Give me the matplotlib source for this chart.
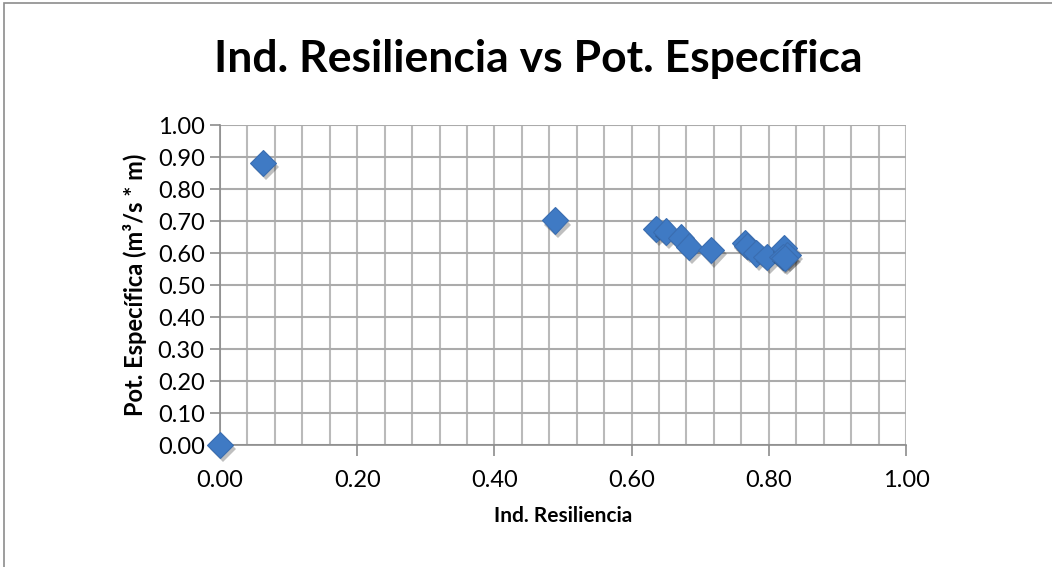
import matplotlib.pyplot as plt
import matplotlib.patheffects as pe
from matplotlib.patches import Rectangle
from matplotlib.ticker import MultipleLocator, FormatStrFormatter

# Data
ind_resiliencia = [0.000, 0.063, 0.488, 0.636, 0.650, 0.672, 0.684, 0.716,
                   0.765, 0.768, 0.782, 0.797, 0.822, 0.827, 0.820, 0.823]
pot_especifica = [0.000, 0.882, 0.702, 0.675, 0.667, 0.648, 0.620, 0.609,
                  0.630, 0.622, 0.599, 0.588, 0.615, 0.594, 0.588, 0.585]

plt.rcParams["font.family"] = ["Lato", "DejaVu Sans"]

fig = plt.figure(figsize=(10.52, 5.67), dpi=100)
ax = fig.add_axes([220 / 1052, 1 - 445 / 567, 686 / 1052, 320 / 567])

# chart border (outer frame)
fig.patches.append(Rectangle((4 / 1052, -0.05), 1.1, 1.05 - 2.5 / 567,
                             transform=fig.transFigure, fill=False,
                             edgecolor="#8c8c8c", linewidth=1.2))

ax.plot(ind_resiliencia, pot_especifica, linestyle="none", marker="D",
        markersize=13.5, color="#3f7ac4", markeredgecolor="#3a6db0",
        markeredgewidth=0.8, clip_on=False, zorder=5,
        path_effects=[pe.withSimplePatchShadow(offset=(2, -3), shadow_rgbFace="black", alpha=0.25)])

ax.set_xlim(0, 1)
ax.set_ylim(0, 1)
ax.xaxis.set_major_locator(MultipleLocator(0.2))
ax.xaxis.set_minor_locator(MultipleLocator(0.04))
ax.yaxis.set_major_locator(MultipleLocator(0.1))
ax.xaxis.set_major_formatter(FormatStrFormatter("%.2f"))
ax.yaxis.set_major_formatter(FormatStrFormatter("%.2f"))

ax.grid(True, which="both", axis="x", color="#bababa", linewidth=1.5)
ax.grid(True, which="major", axis="y", color="#ababab", linewidth=1.5)
ax.set_axisbelow(True)

for side in ["top", "right"]:
    ax.spines[side].set_visible(False)
for side in ["left", "bottom"]:
    ax.spines[side].set_color("#8c8c8c")
    ax.spines[side].set_linewidth(1.2)

ax.tick_params(axis="x", which="major", direction="out", length=8, width=1.2,
               color="#8c8c8c", labelsize=17, pad=10)
ax.tick_params(axis="x", which="minor", length=0)
ax.tick_params(axis="y", direction="out", length=7, width=1.2,
               color="#8c8c8c", labelsize=17, pad=4)

ax.set_title("Ind. Resiliencia vs Pot. Específica", fontsize=32,
             fontweight="bold", pad=38, x=(538 - 220) / 686)
ax.set_xlabel("Ind. Resiliencia", fontsize=15, fontweight="bold", labelpad=11)
ax.set_ylabel("Pot. Específica (m³/s * m)", fontsize=17, fontweight="bold",
              labelpad=8)

plt.savefig("out.png", dpi=100)
